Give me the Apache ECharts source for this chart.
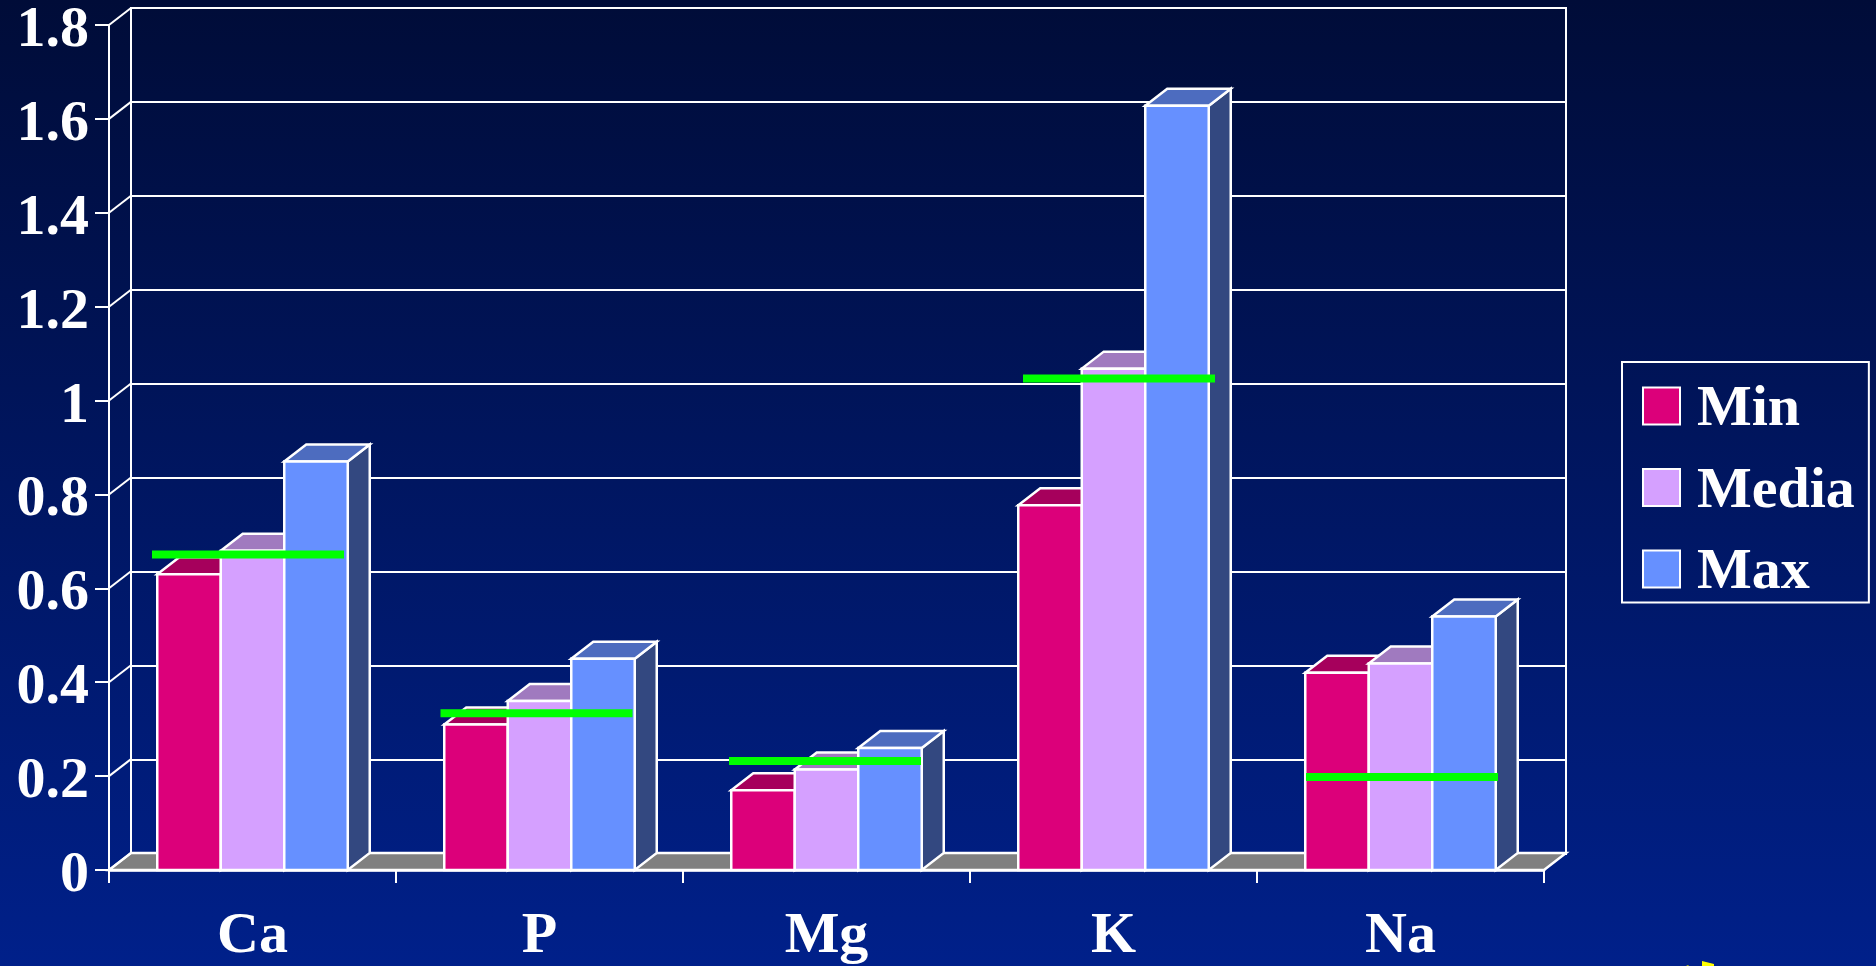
<!DOCTYPE html>
<html><head><meta charset="utf-8">
<style>html,body{margin:0;padding:0;background:#001f85}#c{width:1876px;height:966px}</style>
<script src="https://cdn.jsdelivr.net/npm/echarts@6/dist/echarts.min.js"></script>
</head><body><div id="c"></div>
<script>
const categories = ['Ca','P','Mg','K','Na'];
const minValues = [0.63,0.31,0.17,0.777,0.42];
const mediaValues = [0.68,0.36,0.214,1.068,0.44];
const maxValues = [0.87,0.45,0.26,1.628,0.54];
const greenValues = [0.672,0.334,0.232,1.047,0.198];
const yTicks = [0,0.2,0.4,0.6,0.8,1,1.2,1.4,1.6,1.8];

const DX = 22, DY = 17, BAR_W = 63.5, GREEN_W = 192;
const GREEN_NUDGE = [-4.5,-3,-1.5,5.5,1.5];
const FONT = '"Liberation Serif"';
const WHITE = '#ffffff';
const chart = echarts.init(document.getElementById('c'));

function barSeries(name, values, slot, front, top, side) {
  return {
    name, type: 'custom', xAxisIndex: 0, yAxisIndex: 0, z: 3 + slot,
    itemStyle: { color: front, borderColor: WHITE, borderWidth: 2 },
    data: values.map((v, i) => [i, v]),
    encode: { x: 0, y: 1 },
    renderItem(params, api) {
      const c = api.coord([api.value(0), api.value(1)]);
      const b = api.coord([api.value(0), 0]);
      const x = c[0] + (slot - 1.5) * BAR_W, w = BAR_W, y = c[1], y0 = b[1];
      const line = { stroke: WHITE, lineWidth: 2.5, lineJoin: 'miter' };
      return { type: 'group', children: [
        { type: 'polygon', shape: { points: [[x+w,y],[x+w+DX,y-DY],[x+w+DX,y0-DY],[x+w,y0]] }, style: { fill: side, ...line } },
        { type: 'polygon', shape: { points: [[x,y],[x+DX,y-DY],[x+w+DX,y-DY],[x+w,y]] }, style: { fill: top, ...line } },
        { type: 'rect', shape: { x, y, width: w, height: y0 - y }, style: { fill: front, ...line } }
      ]};
    }
  };
}

chart.setOption({
  animation: false,
  backgroundColor: { type: 'linear', x: 0, y: 0, x2: 0, y2: 1, colorStops: [
    { offset: 0, color: '#000c38' }, { offset: 1, color: '#00208a' } ] },
  grid: [
    { left: 109, right: 332, top: 25, bottom: 95 },
    { left: 131, right: 310, top: 8, bottom: 112, show: true, borderColor: WHITE, borderWidth: 2, backgroundColor: 'transparent' }
  ],
  legend: {
    data: ['Min','Media','Max'], orient: 'vertical', left: 1622, top: 362,
    padding: [19.5, 14, 0, 20], itemWidth: 37, itemHeight: 37, itemGap: 23.5,
    borderColor: WHITE, borderWidth: 2, icon: 'rect',
    itemStyle: { borderColor: WHITE, borderWidth: 2 },
    formatter: '{t|{name}}',
    textStyle: { color: WHITE, fontFamily: FONT, fontWeight: 'bold', fontSize: 58,
      rich: { t: { color: WHITE, fontFamily: FONT, fontWeight: 'bold', fontSize: 58, padding: [9,0,0,12] } } }
  },
  xAxis: [
    { gridIndex: 0, type: 'category', data: categories,
      axisLine: { lineStyle: { color: WHITE, width: 2.5 } },
      axisTick: { show: true, length: 13, lineStyle: { color: WHITE, width: 2 } },
      axisLabel: { color: WHITE, fontFamily: FONT, fontWeight: 'bold', fontSize: 58, margin: 38 },
      splitLine: { show: false } },
    { gridIndex: 1, type: 'category', data: categories, show: false }
  ],
  yAxis: [
    { gridIndex: 0, type: 'value', min: 0, max: 1.8, interval: 0.2,
      axisLine: { show: true, lineStyle: { color: WHITE, width: 2 } },
      axisTick: { show: true, length: 14, lineStyle: { color: WHITE, width: 2 } },
      axisLabel: { color: WHITE, fontFamily: FONT, fontWeight: 'bold', fontSize: 58, margin: 20, verticalAlign: 'top', lineHeight: 12 },
      splitLine: { show: false } },
    { gridIndex: 1, type: 'value', min: 0, max: 1.8, interval: 0.2,
      axisLine: { show: false }, axisTick: { show: false }, axisLabel: { show: false },
      splitLine: { show: true, lineStyle: { color: WHITE, width: 2 } } }
  ],
  graphic: [
    { type: 'polygon', silent: true, z: 20, shape: { points: [[1702,961],[1714,964],[1714,966],[1702,966]] }, style: { fill: '#ffff00' } },
    { type: 'polygon', silent: true, z: 20, shape: { points: [[1686,966],[1688,965],[1689,966]] }, style: { fill: '#cccc00' } }
  ],
  series: [
    { type: 'custom', xAxisIndex: 0, yAxisIndex: 0, z: 2, silent: true,
      data: yTicks.map(v => [0, v]), encode: { x: 0, y: 1 },
      renderItem(params, api) {
        const cs = params.coordSys;
        const y = api.coord([0, api.value(1)])[1];
        const children = [{ type: 'line', shape: { x1: cs.x, y1: y, x2: cs.x + DX, y2: y - DY }, style: { stroke: WHITE, lineWidth: 2 } }];
        if (api.value(1) === 0) {
          children.unshift({ type: 'polygon', shape: { points: [[cs.x,y],[cs.x+DX,y-DY],[cs.x+cs.width+DX,y-DY],[cs.x+cs.width,y]] },
            style: { fill: '#808080', stroke: WHITE, lineWidth: 2.5 } });
        }
        return { type: 'group', children };
      } },
    barSeries('Min', minValues, 0, '#dc007a', '#a6005c', '#6e003d'),
    barSeries('Media', mediaValues, 1, '#d5a0ff', '#a07abf', '#6a5080'),
    barSeries('Max', maxValues, 2, '#6690ff', '#4d6cbf', '#334880'),
    { type: 'custom', xAxisIndex: 0, yAxisIndex: 0, z: 10, silent: true,
      data: greenValues.map((v, i) => [i, v]), encode: { x: 0, y: 1 },
      renderItem(params, api) {
        const i = api.value(0);
        const c = api.coord([i, api.value(1)]);
        return { type: 'rect', shape: { x: c[0] + GREEN_NUDGE[i] - GREEN_W / 2, y: c[1] - 4, width: GREEN_W, height: 8 }, style: { fill: '#00ff00' } };
      } }
  ]
});
</script></body></html>
